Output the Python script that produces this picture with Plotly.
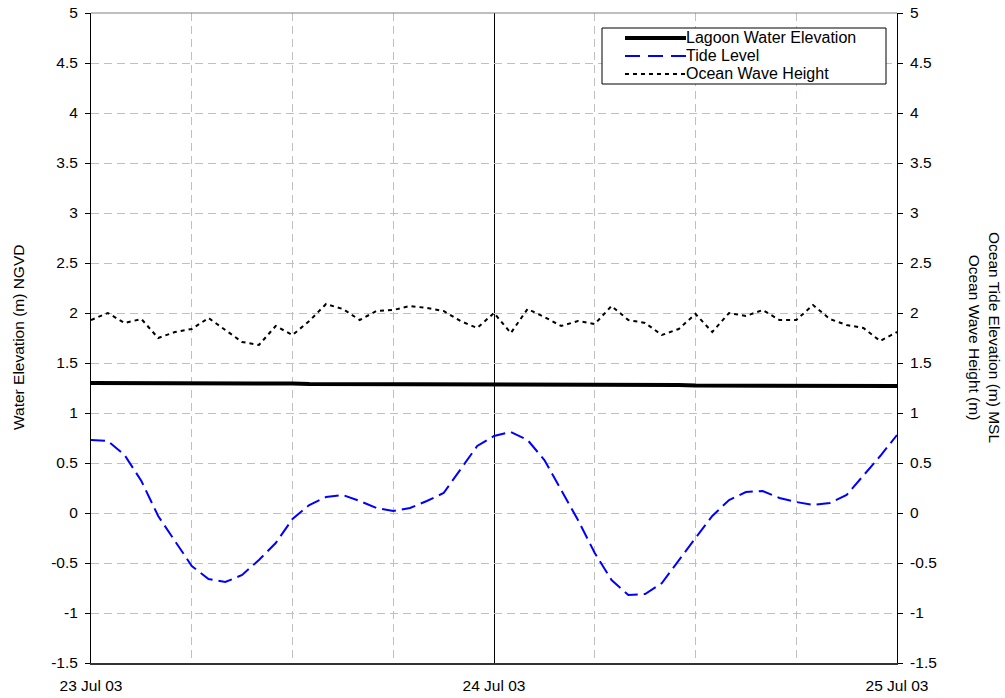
import pandas as pd
import plotly.graph_objects as go

times = pd.date_range("2003-07-23 00:00", "2003-07-25 00:00", freq="h")

lagoon = [1.30, 1.30, 1.30, 1.305, 1.305, 1.305, 1.305, 1.305, 1.305, 1.30, 1.30, 1.295,
          1.295, 1.29, 1.29, 1.29, 1.285, 1.285, 1.285, 1.285, 1.28, 1.28, 1.28, 1.28,
          1.28, 1.285, 1.285, 1.285, 1.29, 1.29, 1.29, 1.29, 1.285, 1.285, 1.28, 1.28,
          1.275, 1.275, 1.27, 1.27, 1.27, 1.27, 1.27, 1.27, 1.27, 1.27, 1.27, 1.27, 1.27]

tide = [0.73, 0.72, 0.58, 0.32, -0.03, -0.28, -0.53, -0.66, -0.69, -0.62, -0.47, -0.30,
        -0.06, 0.08, 0.16, 0.18, 0.12, 0.05, 0.02, 0.05, 0.12, 0.20, 0.43, 0.67,
        0.77, 0.81, 0.73, 0.53, 0.23, -0.07, -0.40, -0.67, -0.82, -0.81, -0.70, -0.47,
        -0.25, -0.03, 0.13, 0.21, 0.22, 0.15, 0.11, 0.08, 0.10, 0.18, 0.37, 0.57, 0.78]

wave = [1.93, 2.00, 1.90, 1.94, 1.75, 1.81, 1.84, 1.95, 1.83, 1.71, 1.68, 1.87,
        1.78, 1.92, 2.09, 2.04, 1.93, 2.02, 2.03, 2.07, 2.05, 2.02, 1.92, 1.85,
        2.00, 1.80, 2.04, 1.96, 1.87, 1.92, 1.89, 2.07, 1.93, 1.90, 1.78, 1.84,
        1.99, 1.81, 2.00, 1.97, 2.03, 1.93, 1.93, 2.08, 1.94, 1.88, 1.85, 1.72, 1.81]

y_tickvals = [-1.5, -1, -0.5, 0, 0.5, 1, 1.5, 2, 2.5, 3, 3.5, 4, 4.5, 5]
y_ticktext = ["-1.5", "-1", "-0.5", "0", "0.5", "1", "1.5", "2", "2.5", "3", "3.5", "4", "4.5", "5"]
x_tickvals = ["2003-07-23", "2003-07-24", "2003-07-25"]
x_ticktext = ["23 Jul 03", "24 Jul 03", "25 Jul 03"]

series_names = ["Lagoon Water Elevation", "Tide Level", "Ocean Wave Height"]

FONT = "Liberation Sans, Arial, sans-serif"
TICK = 15.5
TIDE_DASH = "14px,6px"
WAVE_DASH = "4px,4px"

fig = go.Figure()
fig.add_trace(go.Scatter(x=times, y=tide, mode="lines", name=series_names[1], yaxis="y2",
                         line=dict(color="#0000FF", width=2, dash=TIDE_DASH)))
fig.add_trace(go.Scatter(x=times, y=wave, mode="lines", name=series_names[2], yaxis="y2",
                         line=dict(color="#000000", width=2, dash=WAVE_DASH)))
fig.add_trace(go.Scatter(x=times, y=lagoon, mode="lines", name=series_names[0], yaxis="y",
                         line=dict(color="#000000", width=4)))

fig.update_layout(
    width=1005, height=698,
    margin=dict(l=91, r=108, t=13, b=35),
    paper_bgcolor="white", plot_bgcolor="white",
    showlegend=False,
    font=dict(family=FONT, size=TICK, color="black"),
    xaxis=dict(
        type="date", automargin=False,
        range=["2003-07-23 00:00", "2003-07-25 00:00"],
        tickmode="array", tickvals=x_tickvals, ticktext=x_ticktext,
        showgrid=True, gridcolor="black", gridwidth=1,
        minor=dict(dtick=6 * 3600 * 1000, showgrid=True, gridcolor="#C0C0C0",
                   griddash="8px,5px", ticks=""),
        showline=True, linecolor="#333333", linewidth=2,
        ticks="", ticklabelstandoff=7,
        zeroline=False,
        tickfont=dict(family=FONT, size=TICK),
    ),
    yaxis=dict(
        range=[-1.5, 5], automargin=False,
        tickmode="array", tickvals=y_tickvals, ticktext=y_ticktext,
        showgrid=True, gridcolor="#C0C0C0", griddash="8px,5px", gridwidth=1,
        showline=True, linecolor="black", linewidth=1,
        ticks="outside", ticklen=5, tickcolor="black", ticklabelstandoff=4,
        zeroline=False,
        tickfont=dict(family=FONT, size=TICK),
    ),
    yaxis2=dict(
        range=[-1.5, 5], overlaying="y", side="right", automargin=False,
        tickmode="array", tickvals=y_tickvals, ticktext=y_ticktext,
        showgrid=False,
        showline=True, linecolor="black", linewidth=1,
        ticks="outside", ticklen=5, tickcolor="black", ticklabelstandoff=4,
        zeroline=False,
        tickfont=dict(family=FONT, size=TICK),
    ),
)

# solid grey top border of plot area
fig.add_shape(type="line", xref="paper", yref="paper", x0=0, x1=1, y0=1, y1=1,
              line=dict(color="#808080", width=1), layer="above")

# axis titles
fig.add_annotation(text="Water Elevation (m) NGVD", xref="paper", yref="paper",
                   x=(18 - 91) / 806.0, y=0.5, textangle=-90, showarrow=False,
                   xanchor="center", yanchor="middle", font=dict(family=FONT, size=TICK))
fig.add_annotation(text="Ocean Tide Elevation (m) MSL<br>Ocean Wave Height (m)",
                   xref="paper", yref="paper", x=(985 - 91) / 806.0, y=0.5, textangle=90,
                   showarrow=False, xanchor="center", yanchor="middle",
                   font=dict(family=FONT, size=TICK))

# custom legend (box, line samples, labels) in paper coordinates
def px_x(p):
    return (p - 91) / 806.0

def px_y(p):
    return (663 - p) / 650.0

fig.add_shape(type="rect", xref="paper", yref="paper",
              x0=px_x(602), x1=px_x(886), y0=px_y(84), y1=px_y(28),
              line=dict(color="black", width=1), fillcolor="white", layer="above")
legend_styles = [
    dict(color="#000000", width=4, dash="solid"),
    dict(color="#0000FF", width=2, dash="15px,8px"),
    dict(color="#000000", width=2, dash=WAVE_DASH),
]
legend_rows = [38, 56, 74]
for name, style, row in zip(series_names, legend_styles, legend_rows):
    fig.add_shape(type="line", xref="paper", yref="paper",
                  x0=px_x(625), x1=px_x(686), y0=px_y(row), y1=px_y(row),
                  line=style, layer="above")
    fig.add_annotation(text=name, xref="paper", yref="paper",
                       x=px_x(686), y=px_y(row), xanchor="left", yanchor="middle",
                       xshift=-2, showarrow=False, font=dict(family=FONT, size=16))

fig.write_html("out.html")
